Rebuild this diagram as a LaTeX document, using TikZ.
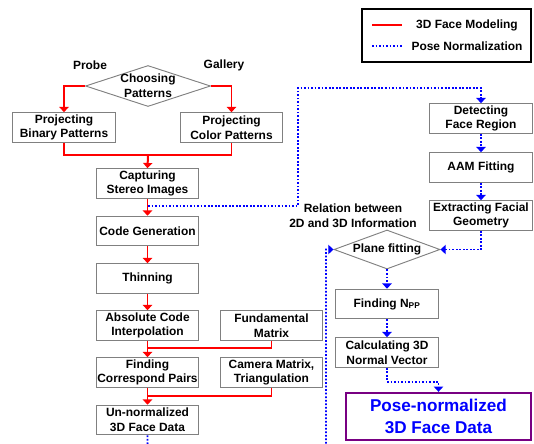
\documentclass[tikz,border=0pt]{standalone}
\usepackage{fontspec}
\setmainfont{Liberation Sans}
\usetikzlibrary{arrows.meta,shapes.geometric}
\definecolor{BoxGray}{RGB}{128,128,128}
\definecolor{LineRed}{RGB}{255,0,0}
\definecolor{LineBlue}{RGB}{0,0,255}
\definecolor{FramePurple}{RGB}{120,0,130}
\tikzstyle{Arrow}=[-{Triangle[length=4.5pt,width=8pt]}]
\tikzstyle{Modeling}=[LineRed, line width=1.7pt]
\tikzstyle{Posing}=[LineBlue, line width=1.5pt, dash pattern=on 1.5pt off 1.5pt]
\tikzstyle{Box}=[draw=BoxGray, line width=0.8pt, minimum width=3.08cm, minimum height=0.89cm, inner sep=1pt, align=center]
\tikzstyle{Choice}=[draw=BoxGray, line width=0.8pt, diamond, inner sep=0pt]

\begin{document}
\begin{tikzpicture}[x=0.03cm, y=-0.03cm, every node/.style={font=\fontsize{10.2}{12.5}\selectfont\bfseries}]
\useasboundingbox (0,0) rectangle (534,443);
\clip (0,0) rectangle (534,443);

% legend
\node[draw, line width=1.5pt, minimum width=5.07cm, minimum height=1.59cm] (legend) at (446.5,35.5) {};
\coordinate (redA) at (372,25);
\coordinate (redB) at (402,25);
\coordinate (blueA) at (372,46);
\coordinate (blueB) at (402,46);
\draw[Modeling] (redA) -- (redB);
\draw[Posing] (blueA) -- (blueB);
\node (modeling) at (467,25) {3D Face Modeling};
\node (posenorm) at (467,46) {Pose Normalization};

% 3D face modeling
\node[Choice, minimum width=3.75cm, minimum height=1.23cm, label={[align=center]center:Choosing\\Patterns}] (choose) at (148,86) {};
\node (probe) at (90,65) {Probe};
\node (gallery) at (224,65) {Gallery};
\node[Box] (binary) at (64,127.5) {Projecting\\Binary Patterns};
\node[Box] (color) at (231.5,127.5) {Projecting\\Color Patterns};
\node[Box] (capture) at (147.5,183.5) {Capturing\\Stereo Images};
\node[Box] (codegen) at (147.5,231) {Code Generation};
\node[Box] (thin) at (147.5,278.5) {Thinning};
\node[Box] (absolute) at (147.5,325.5) {Absolute Code\\Interpolation};
\node[Box] (fundamental) at (271.5,325.5) {Fundamental\\Matrix};
\node[Box] (finding) at (147.5,372.5) {Finding\\Correspond Pairs};
\node[Box] (camera) at (271.5,372.5) {Camera Matrix,\\Triangulation};
\node[Box] (unnorm) at (147.5,420) {Un-normalized\\3D Face Data};

% pose normalization
\node[Box] (detect) at (481,118.5) {Detecting\\Face Region};
\node[Box] (aam) at (481,167.5) {AAM Fitting};
\node[Box] (extract) at (481,215.5) {Extracting Facial\\Geometry};
\node[align=center] (relation) at (353,216) {Relation between\\2D and 3D Information};
\node[Choice, minimum width=3.18cm, minimum height=1.17cm, label={center:Plane fitting}] (plane) at (387,249.5) {};
\node[Box] (npp) at (387,304) {Finding N\textsubscript{PP}};
\node[Box] (calc) at (387,352.5) {Calculating 3D\\Normal Vector};
\node[draw=FramePurple, line width=2pt, minimum width=5.55cm, minimum height=1.41cm, align=center, text=LineBlue, font=\fontsize{14.6}{18.5}\selectfont\bfseries] (posed) at (438.5,416.5) {Pose-normalized\\3D Face Data};

% blue connectors
\coordinate (split) at (148,206);
\coordinate (turnA) at (298,88);
\coordinate (loopA) at (148,470);
\coordinate (loopB) at (326,470);
\draw[Posing,Arrow] (split) -| (turnA) -| (detect.north);
\draw[Posing,Arrow] (detect) -- (aam);
\draw[Posing,Arrow] (aam) -- (extract);
\draw[Posing,Arrow] (extract.south) |- (plane.east);
\draw[Posing,Arrow] (unnorm.south) -- (loopA) -- (loopB) |- (plane.west);
\draw[Posing,Arrow] (plane.south) -- (npp.north);
\draw[Posing,Arrow] (npp) -- (calc);
\draw[Posing,Arrow] (calc.south) -- ++(0,14) -| (posed.north);

% red connectors
\coordinate (merge) at (148,155);
\coordinate (joinA) at (148,347.5);
\coordinate (joinB) at (148,395.5);
\draw[Modeling,Arrow] (choose.west) -| (binary.north);
\draw[Modeling,Arrow] (choose.east) -| (color.north);
\draw[Modeling] (binary.south) |- (merge) -| (color.south);
\draw[Modeling,Arrow] (merge) -- (capture.north);
\draw[Modeling,Arrow] (capture) -- (codegen);
\draw[Modeling,Arrow] (codegen) -- (thin);
\draw[Modeling,Arrow] (thin) -- (absolute);
\draw[Modeling] (fundamental.south) |- (joinA);
\draw[Modeling,Arrow] (absolute) -- (finding);
\draw[Modeling] (camera.south) |- (joinB);
\draw[Modeling,Arrow] (finding) -- (unnorm);

\end{tikzpicture}
\end{document}
